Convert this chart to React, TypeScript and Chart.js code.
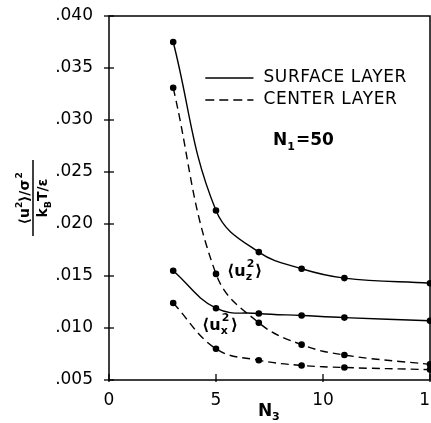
import React, { useEffect, useRef } from "react";
import { Chart, registerables } from "chart.js";

Chart.register(...registerables);

const nValues = [3, 5, 7, 9, 11, 15];
const surfaceUz = [0.0375, 0.0213, 0.0173, 0.0157, 0.0148, 0.0143];
const centerUz = [0.0331, 0.0152, 0.0105, 0.0084, 0.0074, 0.0065];
const surfaceUx = [0.0155, 0.0119, 0.0114, 0.0112, 0.011, 0.0107];
const centerUx = [0.0124, 0.008, 0.0069, 0.0064, 0.0062, 0.006];

const legendLabels = ["SURFACE LAYER", "CENTER LAYER"];
const FONT = "'DejaVu Sans', sans-serif";
const INK = "#000";

function pts(values: number[]) {
  return values.map((v, i) => ({ x: nValues[i], y: v }));
}

const decorPlugin = {
  id: "decor",
  afterDraw(chart: any) {
    const ctx = chart.ctx as CanvasRenderingContext2D;
    const { left, right, top, bottom } = chart.chartArea;
    const xs = chart.scales.x;
    const ys = chart.scales.y;
    ctx.save();
    ctx.strokeStyle = INK;
    ctx.fillStyle = INK;
    ctx.lineWidth = 1.5;
    ctx.strokeRect(left, top, right - left, bottom - top);
    ctx.lineWidth = 1.3;
    ys.ticks.forEach((t: any) => {
      const py = ys.getPixelForValue(t.value);
      ctx.beginPath();
      ctx.moveTo(left - 5, py);
      ctx.lineTo(left + 5, py);
      ctx.stroke();
    });
    xs.ticks.forEach((t: any) => {
      const px = xs.getPixelForValue(t.value);
      ctx.beginPath();
      ctx.moveTo(px, bottom - 6);
      ctx.lineTo(px, bottom + 2);
      ctx.stroke();
    });
    // legend
    const lx0 = xs.getPixelForValue(4.5);
    const lx1 = xs.getPixelForValue(6.75);
    ctx.lineWidth = 1.4;
    ctx.beginPath();
    ctx.moveTo(lx0, 78);
    ctx.lineTo(lx1, 78);
    ctx.stroke();
    ctx.setLineDash([9, 5]);
    ctx.beginPath();
    ctx.moveTo(lx0, 100);
    ctx.lineTo(lx1, 100);
    ctx.stroke();
    ctx.setLineDash([]);
    ctx.font = `17px ${FONT}`;
    (ctx as any).letterSpacing = "0.6px";
    ctx.textBaseline = "middle";
    ctx.textAlign = "left";
    ctx.fillText(legendLabels[0], lx1 + 10, 78);
    ctx.fillText(legendLabels[1], lx1 + 10, 100);
    (ctx as any).letterSpacing = "0px";
    // N1 = 50
    ctx.font = `bold 17px ${FONT}`;
    let x = 273;
    ctx.fillText("N", x, 141);
    x += ctx.measureText("N").width;
    ctx.font = `bold 11px ${FONT}`;
    ctx.fillText("1", x, 147);
    x += ctx.measureText("1").width + 1;
    ctx.font = `bold 17px ${FONT}`;
    ctx.fillText("=50", x, 141);
    // annotations
    const drawU = (sx: number, sy: number, sub: string) => {
      let cx = sx;
      ctx.font = `bold 16px ${FONT}`;
      ctx.fillText("\u27E8u", cx, sy);
      cx += ctx.measureText("\u27E8u").width;
      ctx.font = `bold 11px ${FONT}`;
      ctx.fillText(sub, cx, sy + 5);
      ctx.fillText("2", cx + 1, sy - 8);
      cx += ctx.measureText(sub).width + 3;
      ctx.font = `bold 16px ${FONT}`;
      ctx.fillText("\u27E9", cx, sy);
    };
    drawU(227, 272, "z");
    drawU(202, 326, "x");
    // x title
    ctx.font = `bold 17px ${FONT}`;
    ctx.fillText("N", 258, 412);
    ctx.font = `bold 11px ${FONT}`;
    ctx.fillText("3", 258 + 14, 417);
    // y title (fraction)
    ctx.translate(33, 198);
    ctx.rotate(-Math.PI / 2);
    ctx.lineWidth = 1.5;
    ctx.beginPath();
    ctx.moveTo(-38, 0);
    ctx.lineTo(38, 0);
    ctx.stroke();
    ctx.textBaseline = "alphabetic";
    ctx.font = `bold 14px ${FONT}`;
    const num1 = "\u27E8u";
    const num2 = "\u27E9/\u03C3";
    const wNum =
      ctx.measureText(num1).width + ctx.measureText(num2).width + 14;
    let nx = -wNum / 2;
    ctx.fillText(num1, nx, -4);
    nx += ctx.measureText(num1).width;
    ctx.font = `bold 9px ${FONT}`;
    ctx.fillText("2", nx, -11);
    nx += 6;
    ctx.font = `bold 14px ${FONT}`;
    ctx.fillText(num2, nx, -4);
    nx += ctx.measureText(num2).width;
    ctx.font = `bold 9px ${FONT}`;
    ctx.fillText("2", nx + 1, -11);
    ctx.font = `bold 14px ${FONT}`;
    const wDen =
      ctx.measureText("k").width + 7 + ctx.measureText("T/\u03B5").width;
    let dx = -wDen / 2;
    ctx.fillText("k", dx, 14);
    dx += ctx.measureText("k").width;
    ctx.font = `bold 9px ${FONT}`;
    ctx.fillText("B", dx, 18);
    dx += 7;
    ctx.font = `bold 14px ${FONT}`;
    ctx.fillText("T/\u03B5", dx, 14);
    ctx.restore();
  },
};

export default function App() {
  const ref = useRef<HTMLCanvasElement | null>(null);
  useEffect(() => {
    if (!ref.current) return;
    const common = {
      borderColor: INK,
      backgroundColor: INK,
      pointBackgroundColor: INK,
      pointBorderColor: INK,
      pointRadius: 2.6,
      borderWidth: 1.4,
      tension: 0.4,
      fill: false,
      clip: false as any,
    };
    const chart = new Chart(ref.current, {
      type: "line",
      data: {
        datasets: [
          { ...common, label: "surface uz", data: pts(surfaceUz) },
          { ...common, label: "center uz", data: pts(centerUz), borderDash: [8, 5] },
          { ...common, label: "surface ux", data: pts(surfaceUx) },
          { ...common, label: "center ux", data: pts(centerUx), borderDash: [8, 5] },
        ],
      },
      options: {
        animation: false,
        responsive: false,
        layout: { autoPadding: false, padding: { top: 16, right: 1, left: 0, bottom: 0 } },
        plugins: { legend: { display: false }, tooltip: { enabled: false } },
        scales: {
          x: {
            type: "linear",
            min: 0,
            max: 15,
            grid: { display: false },
            border: { display: false },
            ticks: {
              stepSize: 5,
              color: INK,
              padding: 2,
              maxRotation: 0,
              font: { family: FONT, size: 17 },
            },
            afterFit: (s: any) => {
              s.height = 43;
              s.paddingLeft = 0;
              s.paddingRight = 0;
            },
          },
          y: {
            type: "linear",
            min: 0.005,
            max: 0.04,
            grid: { display: false },
            border: { display: false },
            ticks: {
              stepSize: 0.005,
              color: INK,
              padding: 8,
              font: { family: FONT, size: 17 },
              callback: (v: any) => Number(v).toFixed(3).replace(/^0/, ""),
            },
            afterFit: (s: any) => {
              s.width = 109;
              s.paddingTop = 0;
              s.paddingBottom = 0;
            },
          },
        },
      },
      plugins: [decorPlugin],
    });
    return () => chart.destroy();
  }, []);
  return (
    <div style={{ position: "fixed", left: 0, top: 0, width: 431, height: 423, background: "#fff" }}>
      <canvas ref={ref} width={431} height={423} />
    </div>
  );
}
